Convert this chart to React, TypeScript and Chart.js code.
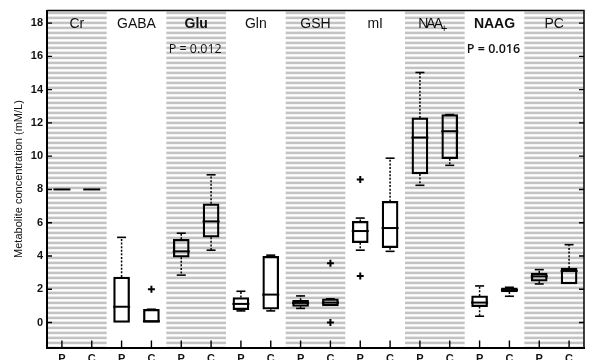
import React, { useEffect, useRef } from 'react';
import { Chart, registerables } from 'chart.js';

Chart.register(...registerables);

// ---- data ----
const metabolites = ['Cr', 'GABA', 'Glu', 'Gln', 'GSH', 'mI', 'NAA+', 'NAAG', 'PC'];
const boldMetabolites = ['Glu', 'NAAG'];
const groups = ['P', 'C'];

// order: Cr-P, Cr-C, GABA-P, GABA-C, ...
const boxMin = [8, 8, 0, 0, 2.85, 4.35, 0.7, 0.7, 0.85, 1.0, 4.35, 4.28, 8.25, 9.45, 0.38, 1.58, 2.32, 2.32];
const boxQ1 = [8, 8, 0, 0, 3.93, 5.13, 0.78, 0.8, 0.97, 1.0, 4.8, 4.5, 8.93, 9.85, 0.96, 1.84, 2.48, 2.32];
const boxMedian = [8, 8, 0.95, 0.08, 4.28, 6.08, 1.12, 1.68, 1.18, 1.2, 5.5, 5.68, 11.12, 11.5, 1.2, 1.95, 2.78, 3.1];
const boxQ3 = [8, 8, 2.74, 0.79, 5.0, 7.14, 1.5, 3.98, 1.34, 1.43, 6.08, 7.28, 12.3, 12.5, 1.6, 2.08, 2.98, 3.28];
const boxMax = [8, 8, 5.12, 0.8, 5.37, 8.88, 1.88, 4.05, 1.6, 1.43, 6.28, 9.88, 15.03, 12.5, 2.2, 2.12, 3.18, 4.68];

const outlierCategory = ['GABA-C', 'GSH-C', 'GSH-C', 'mI-P', 'mI-P'];
const outlierValue = [2.0, 3.57, 0.0, 8.6, 2.8];

const pValueMetabolites = ['Glu', 'NAAG'];
const pValueTexts = ['P = 0.012', 'P = 0.016'];
const pValueBold = [false, true];

const yTicks = [0, 2, 4, 6, 8, 10, 12, 14, 16, 18];
const yMin = -1.5;
const yMax = 18.75;
const yTitle = 'Metabolite concentration (mM/L)';

const categories = metabolites.flatMap((m) => groups.map((g) => `${m}-${g}`));

const SANS = '"Liberation Sans", Arial, sans-serif';

const decorPlugin = {
  id: 'decor',
  beforeDraw(chart: any) {
    const { ctx, chartArea: a, scales } = chart;
    const x = scales.x;
    const half = (x.getPixelForValue(1) - x.getPixelForValue(0)) / 2;
    ctx.save();
    ctx.fillStyle = '#c3c3c3';
    metabolites.forEach((_m, i) => {
      if (i % 2 !== 0) return;
      const x0 = x.getPixelForValue(2 * i) - half;
      const x1 = x.getPixelForValue(2 * i + 1) + half;
      for (let y = a.top + 1; y < a.bottom; y += 5) {
        const h = Math.min(2.6, a.bottom - y);
        ctx.fillRect(x0, y, x1 - x0, h);
      }
    });
    ctx.restore();
  },
  afterDatasetsDraw(chart: any) {
    const { ctx, scales } = chart;
    const x = scales.x;
    const y = scales.y;
    const boxHalf = 8;
    const capHalf = 4.5;
    ctx.save();
    ctx.strokeStyle = '#000';
    categories.forEach((_c, i) => {
      const cx = x.getPixelForValue(i);
      const yMinP = y.getPixelForValue(boxMin[i]);
      const yQ1 = y.getPixelForValue(boxQ1[i]);
      const yQ3 = y.getPixelForValue(boxQ3[i]);
      const yMaxP = y.getPixelForValue(boxMax[i]);
      const yMed = y.getPixelForValue(boxMedian[i]);
      // whiskers (dotted)
      ctx.lineWidth = 1.5;
      ctx.setLineDash([2, 1.6]);
      if (boxMax[i] > boxQ3[i]) {
        ctx.beginPath();
        ctx.moveTo(cx, yQ3);
        ctx.lineTo(cx, yMaxP);
        ctx.stroke();
      }
      if (boxMin[i] < boxQ1[i]) {
        ctx.beginPath();
        ctx.moveTo(cx, yQ1);
        ctx.lineTo(cx, yMinP);
        ctx.stroke();
      }
      ctx.setLineDash([]);
      // caps
      ctx.lineWidth = 1.6;
      if (boxMax[i] > boxQ3[i] || boxMax[i] !== boxMin[i]) {
        ctx.beginPath();
        ctx.moveTo(cx - capHalf, yMaxP);
        ctx.lineTo(cx + capHalf, yMaxP);
        ctx.stroke();
      }
      if (boxMin[i] < boxQ1[i]) {
        ctx.beginPath();
        ctx.moveTo(cx - capHalf, yMinP);
        ctx.lineTo(cx + capHalf, yMinP);
        ctx.stroke();
      }
      // median
      ctx.lineWidth = 2;
      ctx.beginPath();
      ctx.moveTo(cx - boxHalf - 0.5, yMed);
      ctx.lineTo(cx + boxHalf + 0.5, yMed);
      ctx.stroke();
    });
    ctx.restore();
  },
  afterDraw(chart: any) {
    const { ctx, chartArea: a, scales } = chart;
    const x = scales.x;
    const y = scales.y;
    ctx.save();
    ctx.strokeStyle = '#000';
    // top & right border
    ctx.lineWidth = 1.5;
    ctx.beginPath();
    ctx.moveTo(a.left, a.top);
    ctx.lineTo(a.right, a.top);
    ctx.lineTo(a.right, a.bottom);
    ctx.stroke();
    // inward ticks on left and right
    ctx.lineWidth = 1.4;
    yTicks.forEach((v) => {
      const py = y.getPixelForValue(v);
      ctx.beginPath();
      ctx.moveTo(a.left, py);
      ctx.lineTo(a.left + 5, py);
      ctx.moveTo(a.right, py);
      ctx.lineTo(a.right - 5, py);
      ctx.stroke();
    });
    // inward ticks on bottom
    categories.forEach((_c, i) => {
      const px = x.getPixelForValue(i);
      ctx.beginPath();
      ctx.moveTo(px, a.bottom);
      ctx.lineTo(px, a.bottom - 7);
      ctx.stroke();
    });
    // metabolite names
    const half = (x.getPixelForValue(1) - x.getPixelForValue(0)) / 2;
    ctx.fillStyle = '#111';
    ctx.textBaseline = 'alphabetic';
    metabolites.forEach((m, i) => {
      const cx = (x.getPixelForValue(2 * i) + x.getPixelForValue(2 * i + 1)) / 2;
      const bold = boldMetabolites.includes(m);
      ctx.font = `${bold ? 'bold ' : ''}14px ${SANS}`;
      if (m.endsWith('+')) {
        const base = m.slice(0, -1);
        (ctx as any).letterSpacing = '-2px';
        const w1 = ctx.measureText(base).width;
        ctx.font = `11px ${SANS}`;
        (ctx as any).letterSpacing = '0px';
        const w2 = ctx.measureText('+').width;
        const start = cx - (w1 + w2) / 2 - 2;
        ctx.font = `14px ${SANS}`;
        (ctx as any).letterSpacing = '-2px';
        ctx.textAlign = 'left';
        ctx.fillText(base, start, 27.5);
        (ctx as any).letterSpacing = '0px';
        ctx.font = `11px ${SANS}`;
        ctx.fillText('+', start + w1, 32);
      } else {
        (ctx as any).letterSpacing = '0px';
        ctx.textAlign = 'center';
        ctx.fillText(m, cx, 27.5);
      }
    });
    // p-values
    pValueMetabolites.forEach((m, k) => {
      const i = metabolites.indexOf(m);
      const cx = (x.getPixelForValue(2 * i) + x.getPixelForValue(2 * i + 1)) / 2;
      ctx.font = `${pValueBold[k] ? '600 ' : ''}12.5px "Open Sans", sans-serif`;
      ctx.textAlign = 'center';
      ctx.fillText(pValueTexts[k], cx - 1, 52.8);
    });
    void half;
    ctx.restore();
  },
};

export default function App() {
  const ref = useRef<HTMLCanvasElement | null>(null);
  useEffect(() => {
    if (!ref.current) return;
    const chart = new Chart(ref.current, {
      type: 'bar',
      data: {
        labels: categories,
        datasets: [
          {
            type: 'bar',
            data: boxQ1.map((q, i) => [q, boxQ3[i]]) as any,
            backgroundColor: 'rgba(0,0,0,0)',
            borderColor: '#000',
            borderWidth: 1.6,
            borderSkipped: false,
            barThickness: 16,
          } as any,
          {
            type: 'scatter',
            data: outlierCategory.map((c, i) => ({ x: c, y: outlierValue[i] })) as any,
            pointStyle: 'cross',
            pointRadius: 3.5,
            pointBorderWidth: 2,
            borderColor: '#000',
            backgroundColor: '#000',
          } as any,
        ],
      },
      options: {
        animation: false,
        responsive: false,
        maintainAspectRatio: false,
        layout: { padding: { top: 10, right: 2, left: 0, bottom: 0 } },
        plugins: { legend: { display: false }, tooltip: { enabled: false } },
        scales: {
          x: {
            type: 'category',
            offset: true,
            grid: { display: false, drawTicks: false },
            border: { display: true, color: '#000', width: 2 },
            ticks: {
              autoSkip: false,
              maxRotation: 0,
              padding: 5,
              color: '#111',
              font: { family: SANS, size: 11, weight: 'bold' },
              callback: (_v: any, idx: number) => groups[idx % 2],
            },
            afterFit: (s: any) => {
              s.height = 12.5;
            },
          },
          y: {
            type: 'linear',
            min: yMin,
            max: yMax,
            grid: { display: false, drawTicks: false },
            border: { display: true, color: '#000', width: 2 },
            afterBuildTicks: (s: any) => {
              s.ticks = yTicks.map((v) => ({ value: v }));
            },
            ticks: {
              padding: 4,
              color: '#111',
              font: { family: SANS, size: 11, weight: 'bold' },
            },
            title: {
              display: true,
              text: yTitle,
              color: '#111',
              font: { family: SANS, size: 11 },
              padding: { top: 12, bottom: 0 },
            },
            afterFit: (s: any) => {
              s.width = 47;
            },
          },
        },
      },
      plugins: [decorPlugin],
    });
    return () => chart.destroy();
  }, []);
  return (
    <div style={{ position: 'fixed', left: 0, top: 0, width: 590, height: 360, background: '#fff' }}>
      <canvas ref={ref} width={590} height={360} style={{ width: 590, height: 360, display: 'block' }} />
    </div>
  );
}
